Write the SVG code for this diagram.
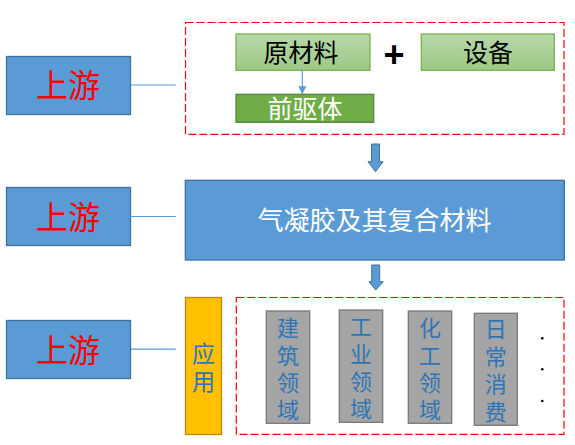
<svg xmlns="http://www.w3.org/2000/svg" width="575" height="445" viewBox="0 0 575 445">
<defs>
<linearGradient id="gGreen" x1="0" y1="0" x2="0" y2="1">
<stop offset="0" stop-color="#B8D8A9"/>
<stop offset="1" stop-color="#9DC886"/>
</linearGradient>
<marker id="ah" viewBox="0 0 10 10" refX="10" refY="5" markerWidth="8" markerHeight="8" markerUnits="userSpaceOnUse" orient="auto">
<path d="M0,0 L10,5 L0,10 z" fill="#5B9BD5"/>
</marker>
<style>
.cjk{font-family:"Noto Sans CJK SC","Noto Sans CJK TC",sans-serif;}
.up{fill:#5B9BD5;stroke:#41719C;stroke-width:1.3;}
.upt{fill:#FF0000;font-size:32px;text-anchor:middle;}
.dash{fill:none;stroke:#FF0000;stroke-width:1.2;stroke-dasharray:8,3;}
.gl{fill:url(#gGreen);stroke:#70AD47;stroke-width:1.2;}
.gd{fill:#70AD47;stroke:#507E32;stroke-width:1.2;}
.gr{fill:#A5A5A5;stroke:#787878;stroke-width:1.3;}
.vt{fill:#2E75B6;font-size:22px;writing-mode:vertical-rl;letter-spacing:5.4px;text-anchor:start;}
.link{stroke:#5B9BD5;stroke-width:1.2;fill:none;}
.blk{fill:#5B9BD5;stroke:#41719C;stroke-width:1;}
</style>
</defs>
<rect width="575" height="445" fill="#FFFFFF"/>

<g id="frame-top"><rect class="dash" x="185.5" y="22.5" width="378.5" height="111.8"/></g>
<g id="frame-bottom"><rect class="dash" x="236.3" y="297.5" width="327.7" height="136.8"/></g>

<g id="up1"><rect class="up" x="6.5" y="56.5" width="124" height="58"/><text class="cjk upt" x="68" y="97">上游</text></g>
<g id="up2"><rect class="up" x="6.5" y="187.5" width="124" height="58"/><text class="cjk upt" x="68" y="228.5">上游</text></g>
<g id="up3"><rect class="up" x="6.5" y="320.5" width="124" height="58"/><text class="cjk upt" x="68" y="361.5">上游</text></g>

<g id="raw"><rect class="gl" x="236" y="34" width="134" height="36.3"/><text class="cjk" x="301" y="61.5" font-size="25" text-anchor="middle" fill="#000000">原材料</text></g>
<g id="plus"><text x="394" y="66.5" font-family="Liberation Sans, Arial, sans-serif" font-size="36" font-weight="bold" text-anchor="middle" fill="#000000">+</text></g>
<g id="equip"><rect class="gl" x="421.3" y="34" width="133" height="36.3"/><text class="cjk" x="488" y="61.5" font-size="25" text-anchor="middle" fill="#000000">设备</text></g>
<g id="precursor"><rect class="gd" x="236" y="94.3" width="137.7" height="28"/><text class="cjk" x="305" y="117.5" font-size="25" text-anchor="middle" fill="#FFFFFF">前驱体</text></g>

<g id="aerogel"><rect class="up" x="185.3" y="180.3" width="379" height="79.7"/><text class="cjk" x="374.6" y="229.8" font-size="26" text-anchor="middle" fill="#FFFFFF">气凝胶及其复合材料</text></g>

<g id="apply"><rect x="185.5" y="297.5" width="36" height="137" fill="#FFC000" stroke="#BC8C00" stroke-width="1.3"/><text class="cjk vt" x="203.4" y="341.8" style="font-size:23px">应用</text></g>

<g id="build"><rect class="gr" x="266.3" y="311" width="43.4" height="112.3"/><text class="cjk vt" x="288" y="316.8">建筑领域</text></g>
<g id="industry"><rect class="gr" x="339.3" y="310" width="43.4" height="112.3"/><text class="cjk vt" x="361" y="315.7">工业领域</text></g>
<g id="chem"><rect class="gr" x="408.3" y="311" width="43.4" height="112.3"/><text class="cjk vt" x="430" y="316.8">化工领域</text></g>
<g id="daily"><rect class="gr" x="474.3" y="313.3" width="43" height="112"/><text class="cjk vt" x="495.8" y="318">日常消费</text></g>
<g id="more"><circle cx="542.3" cy="338.3" r="1.3" fill="#000"/><circle cx="542.3" cy="369.3" r="1.3" fill="#000"/><circle cx="542.3" cy="401" r="1.3" fill="#000"/></g>

<g id="connectors">
<line class="link" x1="130.5" y1="85" x2="175.7" y2="85"/>
<line class="link" x1="130.5" y1="216.5" x2="175.7" y2="216.5"/>
<line class="link" x1="130.5" y1="349.2" x2="175.7" y2="349.2"/>
<line class="link" x1="302.3" y1="70.3" x2="302.3" y2="94.3" marker-end="url(#ah)"/>
<path class="blk" d="M371.5,144 H379.5 V161.7 H383 L375.5,171.7 L368,161.7 H371.5 Z"/>
<path class="blk" d="M371.7,265 H379.7 V281.7 H383.3 L375.7,290 L369,281.7 H371.7 Z"/>
</g>
</svg>
